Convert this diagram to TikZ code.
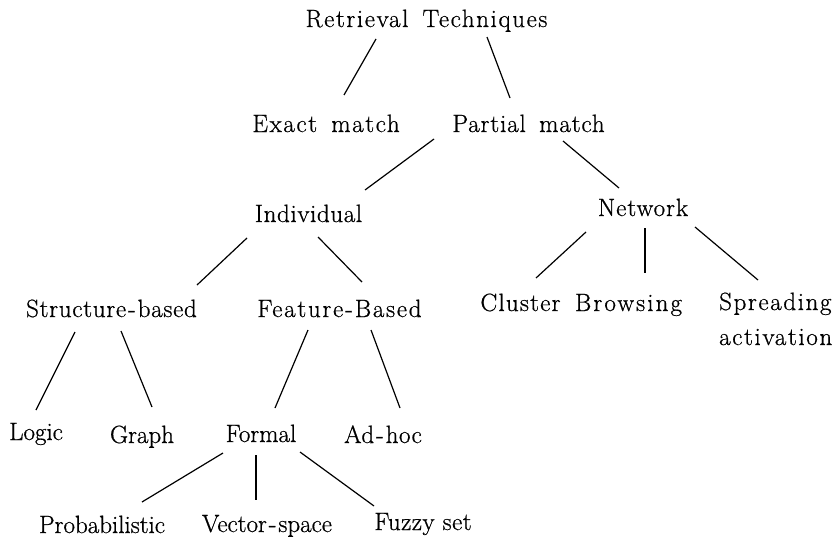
\documentclass[tikz,border=0pt]{standalone}
\usepackage{fontspec}
\setmainfont{Latin Modern Roman}
\newcommand\hy{\kern2pt-\kern2pt}
\newcommand\wsp{\ \hspace{5pt}}
\newcommand\lblfont{\fontsize{25}{30}\selectfont\addfontfeature{FakeBold=0.7}}
\begin{document}
\begin{tikzpicture}[x=1pt,y=-1pt,
  lbl/.style={inner sep=0pt,anchor=base,font=\lblfont},
  ls/.style={font={\lblfont\addfontfeature{LetterSpace=#1}}},
  branch/.style={line width=1.2pt}]
\useasboundingbox (0,0) rectangle (835,538);
\node[lbl,ls=6.5] (rt) at (426.5,27) {Retrieval\wsp Techniques};
\node[lbl,ls=6.5] (ex) at (326,132) {Exact\wsp match};
\node[lbl,ls=3.5] (pm) at (528.5,132) {Partial\wsp match};
\node[lbl,ls=2.5] (ind) at (308.5,222) {Individual};
\node[lbl,ls=4] (net) at (643,216) {Network};
\node[lbl,ls=3] (sb) at (111.5,317) {Structure\hy based};
\node[lbl,ls=7] (fb) at (339.5,317) {Feature\hy Based};
\node[lbl,ls=5] (cl) at (520.5,311) {Cluster};
\node[lbl,ls=8.5] (br) at (628.5,311) {Browsing};
\node[lbl,ls=6.5,anchor=base west] (sp) at (719,310) {\vtop{\baselineskip=35pt\hbox{Spreading}\hbox{activation}}};
\node[lbl] (lg) at (36,440) {Logic};
\node[lbl] (gr) at (142,443) {Graph};
\node[lbl] (fo) at (261,442) {Formal};
\node[lbl,ls=2] (ah) at (383,443) {Ad\hy hoc};
\node[lbl] (pr) at (102,533) {Probabilistic};
\node[lbl] (vs) at (267,532) {Vector\hy space};
\node[lbl,ls=2] (fz) at (423,530) {Fuzzy set};
\draw[branch] ([shift={(-50.5,12)}]rt.base) -- ([shift={(18,-37)}]ex.base);
\draw[branch] ([shift={(60.5,10)}]rt.base) -- ([shift={(-18.5,-34)}]pm.base);
\draw[branch] ([shift={(-94.5,7)}]pm.base) -- ([shift={(56.5,-32)}]ind.base);
\draw[branch] ([shift={(34.5,9)}]pm.base) -- ([shift={(-24,-28)}]net.base);
\draw[branch] ([shift={(-61.5,16)}]ind.base) -- ([shift={(85.5,-32)}]sb.base);
\draw[branch] ([shift={(9.5,15)}]ind.base) -- ([shift={(22.5,-35)}]fb.base);
\draw[branch] ([shift={(-57,16)}]net.base) -- ([shift={(15.5,-33)}]cl.base);
\draw[branch] ([shift={(2,12)}]net.base) -- ([shift={(16.5,-38)}]br.base);
\draw[branch] ([shift={(52,11)}]net.base) -- ([shift={(39,-30)}]sp.base west);
\draw[branch] ([shift={(-36.5,15)}]sb.base) -- ([shift={(0,-30)}]lg.base);
\draw[branch] ([shift={(9.5,14)}]sb.base) -- ([shift={(10,-36)}]gr.base);
\draw[branch] ([shift={(-31.5,13)}]fb.base) -- ([shift={(14,-34)}]fo.base);
\draw[branch] ([shift={(31.5,13)}]fb.base) -- ([shift={(17,-35)}]ah.base);
\draw[branch] ([shift={(-38,11)}]fo.base) -- ([shift={(40,-31)}]pr.base);
\draw[branch] ([shift={(-5,13)}]fo.base) -- ([shift={(-11,-32)}]vs.base);
\draw[branch] ([shift={(39,10)}]fo.base) -- ([shift={(-49,-24)}]fz.base);
\end{tikzpicture}
\end{document}
